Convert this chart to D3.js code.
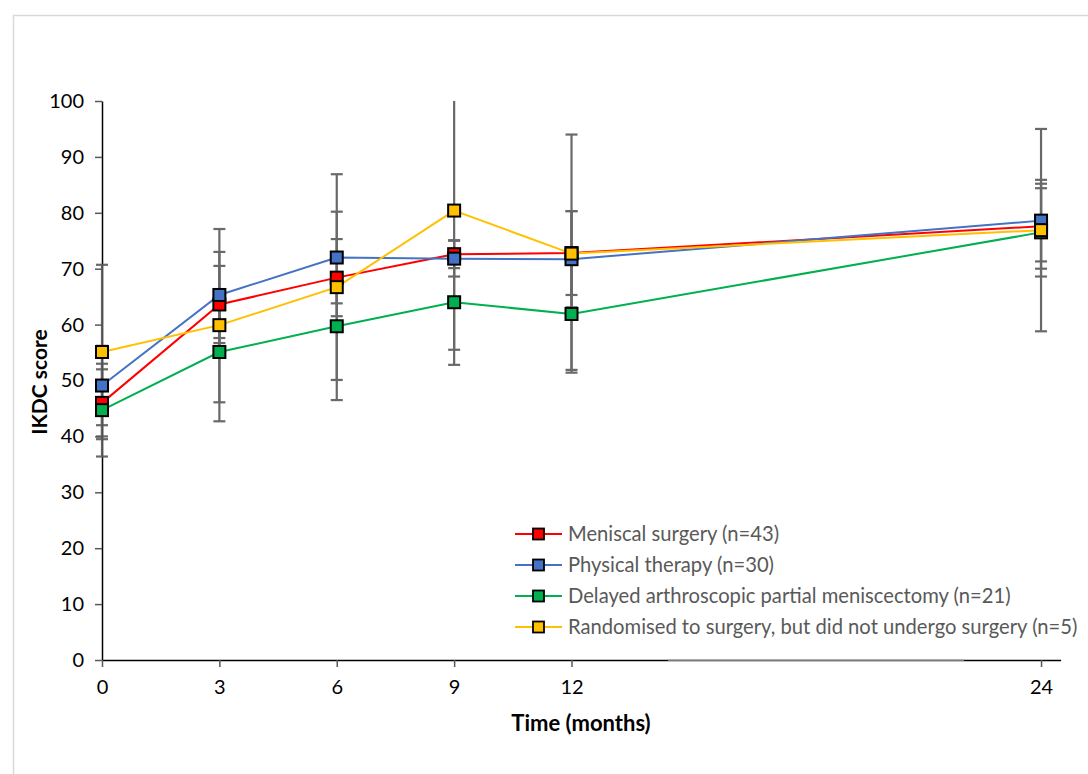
<!DOCTYPE html>
<html lang="en">
<head>
    <meta charset="UTF-8">
    <title>IKDC score over time</title>
    <script src="https://cdnjs.cloudflare.com/ajax/libs/d3/7.8.5/d3.min.js"></script>
    <style>
        body { margin: 0; background: #fff; }
        text { font-family: Lato, "Open Sans", sans-serif; }
    </style>
</head>
<body>

<script>
    // data (mean and SD per follow-up)
    var months = [0, 3, 6, 9, 12, 24];
    var xTicks = [0, 3, 6, 9, 12, 24];
    var yTicks = [0, 10, 20, 30, 40, 50, 60, 70, 80, 90, 100];

    var seriesNames = [
        "Meniscal surgery (n=43)",
        "Physical therapy (n=30)",
        "Delayed arthroscopic partial meniscectomy (n=21)",
        "Randomised to surgery, but did not undergo surgery (n=5)"
    ];
    var seriesColors = ["#ff0000", "#4472c4", "#00b050", "#ffc000"];

    var meniscal = [46.0, 63.6, 68.4, 72.6, 72.8, 77.6];
    var physical = [49.1, 65.3, 72.0, 71.8, 71.7, 78.6];
    var delayed = [44.7, 55.1, 59.7, 64.0, 61.9, 76.5];
    var randomised = [55.1, 59.9, 66.7, 80.4, 72.7, 76.9];

    var meniscalSD = [6.0, 6.9, 6.9, 2.5, 7.5, 7.6];
    var physicalSD = [7.1, 7.7, 8.2, 3.2, 8.6, 7.3];
    var delayedSD = [8.3, 9.0, 9.6, 8.5, 10.0, 7.9];
    var randomisedSD = [15.6, 17.2, 20.2, 27.6, 21.3, 18.1];

    var means = [meniscal, physical, delayed, randomised];
    var sds = [meniscalSD, physicalSD, delayedSD, randomisedSD];

    var width = 1088,
        height = 774;

    var svg = d3.select("body").append("svg")
            .attr("width", width)
            .attr("height", height);

    // light frame around the chart area
    svg.append("path")
        .attr("d", "M13.5," + height + "V15.5H" + width)
        .attr("fill", "none").attr("stroke", "#d9d9d9").attr("stroke-width", 1.5);

    var x = d3.scaleLinear().domain([0, 24.5]).range([102, 1060.6]);
    var y = d3.scaleLinear().domain([0, 100]).range([660, 101]);

    svg.append("defs").append("clipPath").attr("id", "plot")
        .append("rect").attr("x", 90).attr("y", y(100)).attr("width", 990).attr("height", y(0) - y(100));

    // axes
    var yAxis = svg.append("g")
        .attr("transform", "translate(" + x(0) + ",0)")
        .call(d3.axisLeft(y).tickValues(yTicks).tickSize(7).tickSizeOuter(0).tickPadding(11));

    var xAxis = svg.append("g")
        .attr("transform", "translate(0," + y(0) + ")")
        .call(d3.axisBottom(x).tickValues(xTicks).tickSize(7).tickSizeOuter(0).tickPadding(13));

    [yAxis, xAxis].forEach(function(ax) {
        ax.select(".domain").attr("stroke", "#000").attr("stroke-width", 1.5);
        ax.selectAll(".tick line").attr("stroke", "#595959").attr("stroke-width", 1.5);
        ax.selectAll(".tick text").attr("fill", "#000").style("font-size", "20px");
    });

    // the legend box border sits over part of the x axis
    svg.append("line")
        .attr("x1", 668).attr("x2", 964)
        .attr("y1", y(0)).attr("y2", y(0))
        .attr("stroke", "#a6a6a6").attr("stroke-width", 1.5);

    svg.append("text")
        .attr("transform", "translate(47," + 382 + ") rotate(-90)")
        .attr("text-anchor", "middle")
        .style("font-size", "21px").style("font-weight", "bold")
        .text("IKDC score");

    svg.append("text")
        .attr("x", 581).attr("y", 731)
        .attr("text-anchor", "middle")
        .style("font-size", "22px").style("font-weight", "bold")
        .text("Time (months)");

    var line = d3.line()
        .x(function(d, i) { return x(months[i]); })
        .y(function(d) { return y(d); });

    // lines first
    means.forEach(function(vals, s) {
        svg.append("path")
            .datum(vals)
            .attr("d", line)
            .attr("fill", "none")
            .attr("stroke", seriesColors[s])
            .attr("stroke-width", 2);
    });

    // error bars
    var errG = svg.append("g").attr("clip-path", "url(#plot)")
        .attr("stroke", "#595959").attr("stroke-width", 2.2).attr("opacity", 0.9);
    means.forEach(function(vals, s) {
        vals.forEach(function(v, i) {
            var cx = x(months[i]),
                hi = y(v + sds[s][i]),
                lo = y(v - sds[s][i]);
            errG.append("line").attr("x1", cx).attr("x2", cx).attr("y1", hi).attr("y2", lo);
            errG.append("line").attr("x1", cx - 6).attr("x2", cx + 6).attr("y1", hi).attr("y2", hi);
            errG.append("line").attr("x1", cx - 6).attr("x2", cx + 6).attr("y1", lo).attr("y2", lo);
        });
    });

    // markers on top
    means.forEach(function(vals, s) {
        svg.append("g").selectAll("rect").data(vals)
            .enter().append("rect")
            .attr("x", function(d, i) { return x(months[i]) - 6; })
            .attr("y", function(d) { return y(d) - 6; })
            .attr("width", 12).attr("height", 12)
            .attr("fill", seriesColors[s])
            .attr("stroke", "#000").attr("stroke-width", 2);
    });

    // legend
    var legend = svg.append("g").attr("transform", "translate(515,534)");
    var rows = legend.selectAll("g").data(seriesNames)
        .enter().append("g")
        .attr("transform", function(d, i) { return "translate(0," + (i * 31) + ")"; });
    rows.append("line")
        .attr("x1", 0).attr("x2", 47)
        .attr("stroke", function(d, i) { return seriesColors[i]; })
        .attr("stroke-width", 2);
    rows.append("rect")
        .attr("x", 18).attr("y", -5.5).attr("width", 11).attr("height", 11)
        .attr("fill", function(d, i) { return seriesColors[i]; })
        .attr("stroke", "#000").attr("stroke-width", 1.8);
    rows.append("text")
        .attr("x", 53).attr("y", 7)
        .attr("fill", "#595959")
        .style("font-size", "20.2px")
        .text(function(d) { return d; });
</script>

</body>
</html>
